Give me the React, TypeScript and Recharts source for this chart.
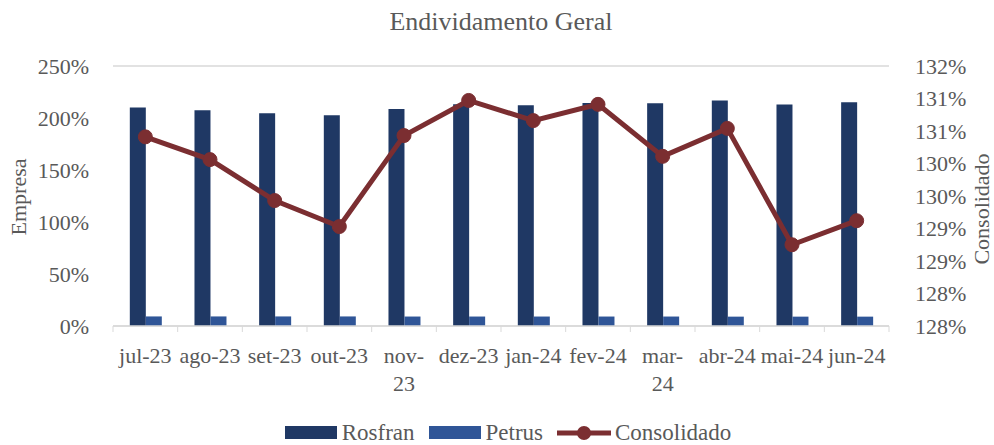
import React from "react";
import { ComposedChart, Bar, Line, XAxis, YAxis, CartesianGrid, Legend } from "recharts";

const months = ["jul-23", "ago-23", "set-23", "out-23", "nov-23", "dez-23", "jan-24", "fev-24", "mar-24", "abr-24", "mai-24", "jun-24"];
const rosfran = [210.1, 207.5, 204.6, 202.7, 208.7, 213.3, 212.3, 214.5, 214.2, 216.8, 213.0, 215.2];
const petrus = [9.2, 9.2, 9.2, 9.2, 9.1, 9.1, 9.1, 9.1, 9.1, 9.0, 9.0, 9.0];
const consolidado = [130.66, 130.31, 129.68, 129.28, 130.68, 131.22, 130.91, 131.16, 130.36, 130.79, 129.0, 129.37];
const leftTicks = [0, 50, 100, 150, 200, 250];
const rightTicks = [127.75, 128.25, 128.75, 129.25, 129.75, 130.25, 130.75, 131.25, 131.75];
// Excel wrapped these two labels onto two lines
const wrappedLabels = ["nov-23", "mar-24"];

const data = months.map((m, i) => ({
  month: m,
  Rosfran: rosfran[i],
  Petrus: petrus[i],
  Consolidado: consolidado[i],
}));

const FONT = "'Liberation Serif', 'DejaVu Serif', serif";
const GREY = "#595959";
const W = 994;
const H = 445;
const LEFT_W = 113;
const RIGHT_W = 105;
const BAND = (W - LEFT_W - RIGHT_W) / months.length;

const MonthTick = (props: any) => {
  const { x, y, payload, index } = props;
  const label: string = payload.value;
  const lines = wrappedLabels.includes(label) ? [label.slice(0, label.indexOf("-") + 1), label.slice(label.indexOf("-") + 1)] : [label];
  return (
    <g>
      <line x1={x - BAND / 2} x2={x - BAND / 2} y1={y - 8} y2={y - 2} stroke="#d9d9d9" />
      {index === months.length - 1 && (
        <line x1={x + BAND / 2} x2={x + BAND / 2} y1={y - 8} y2={y - 2} stroke="#d9d9d9" />
      )}
      <text x={x} y={y} textAnchor="middle" fill={GREY} fontSize={22} fontFamily={FONT}>
        {lines.map((l, i) => (
          <tspan key={i} x={x} dy={i === 0 ? 29 : 28}>
            {l}
          </tspan>
        ))}
      </text>
    </g>
  );
};

const LegendContent = () => (
  <div
    style={{
      display: "flex",
      justifyContent: "center",
      alignItems: "center",
      fontFamily: FONT,
      fontSize: 23,
      lineHeight: "22px",
      color: GREY,
      height: 40,
      paddingTop: 15,
      boxSizing: "border-box",
      paddingLeft: 22,
    }}
  >
    <span style={{ display: "inline-block", width: 52, height: 13, background: "#1f3864", marginRight: 5 }} />
    <span style={{ marginRight: 14 }}>Rosfran</span>
    <span style={{ display: "inline-block", width: 52, height: 13, background: "#2f5597", marginRight: 5 }} />
    <span style={{ marginRight: 12 }}>Petrus</span>
    <svg width={58} height={20} style={{ marginRight: 2 }}>
      <line x1={2} x2={56} y1={10} y2={10} stroke="#7b2e31" strokeWidth={5} />
      <circle cx={29} cy={10} r={7} fill="#7b2e31" />
    </svg>
    <span>Consolidado</span>
  </div>
);

export default function App() {
  return (
    <div style={{ position: "absolute", left: 0, top: 0, width: W, height: H, background: "#fff" }}>
      <div
        style={{
          position: "absolute",
          left: LEFT_W,
          width: W - LEFT_W - RIGHT_W,
          top: 7,
          textAlign: "center",
          fontFamily: FONT,
          fontSize: 26,
          color: GREY,
        }}
      >
        Endividamento Geral
      </div>
      <ComposedChart
        width={W}
        height={H}
        data={data}
        margin={{ top: 66, right: 0, bottom: 0, left: 0 }}
        barCategoryGap="26%"
        barGap={0}
      >
        <CartesianGrid vertical={false} stroke="#d9d9d9" strokeWidth={1.5} />
        <XAxis
          dataKey="month"
          height={79}
          axisLine={{ stroke: "#d9d9d9", strokeWidth: 1.5 }}
          tickLine={false}
          tick={<MonthTick />}
          interval={0}
        />
        <YAxis
          yAxisId="left"
          width={LEFT_W}
          domain={[0, 250]}
          ticks={leftTicks}
          tickFormatter={(v: number) => `${v}%`}
          axisLine={false}
          tickLine={false}
          tickMargin={18}
          tick={{ fill: GREY, fontSize: 22, fontFamily: FONT }}
          label={{
            content: () => (
              <text
                transform="translate(26,197) rotate(-90)"
                textAnchor="middle"
                fill={GREY}
                fontSize={22}
                fontFamily={FONT}
              >
                Empresa
              </text>
            ),
          }}
        />
        <YAxis
          yAxisId="right"
          orientation="right"
          width={RIGHT_W}
          domain={[127.75, 131.75]}
          ticks={rightTicks}
          tickFormatter={(v: number) => `${Math.round(v)}%`}
          axisLine={false}
          tickLine={false}
          tickMargin={20}
          tick={{ fill: GREY, fontSize: 22, fontFamily: FONT, textAnchor: "start" }}
          label={{
            content: () => (
              <text
                transform="translate(989,209) rotate(-90)"
                textAnchor="middle"
                fill={GREY}
                fontSize={22}
                fontFamily={FONT}
              >
                Consolidado
              </text>
            ),
          }}
        />
        <Legend verticalAlign="bottom" height={40} content={<LegendContent />} />
        <Bar yAxisId="left" dataKey="Rosfran" fill="#1f3864" isAnimationActive={false} />
        <Bar yAxisId="left" dataKey="Petrus" fill="#2f5597" isAnimationActive={false} />
        <Line
          yAxisId="right"
          dataKey="Consolidado"
          stroke="#7b2e31"
          strokeWidth={5}
          dot={{ r: 7, fill: "#7b2e31", stroke: "#7b2e31", strokeWidth: 1 }}
          activeDot={false}
          isAnimationActive={false}
        />
      </ComposedChart>
    </div>
  );
}
